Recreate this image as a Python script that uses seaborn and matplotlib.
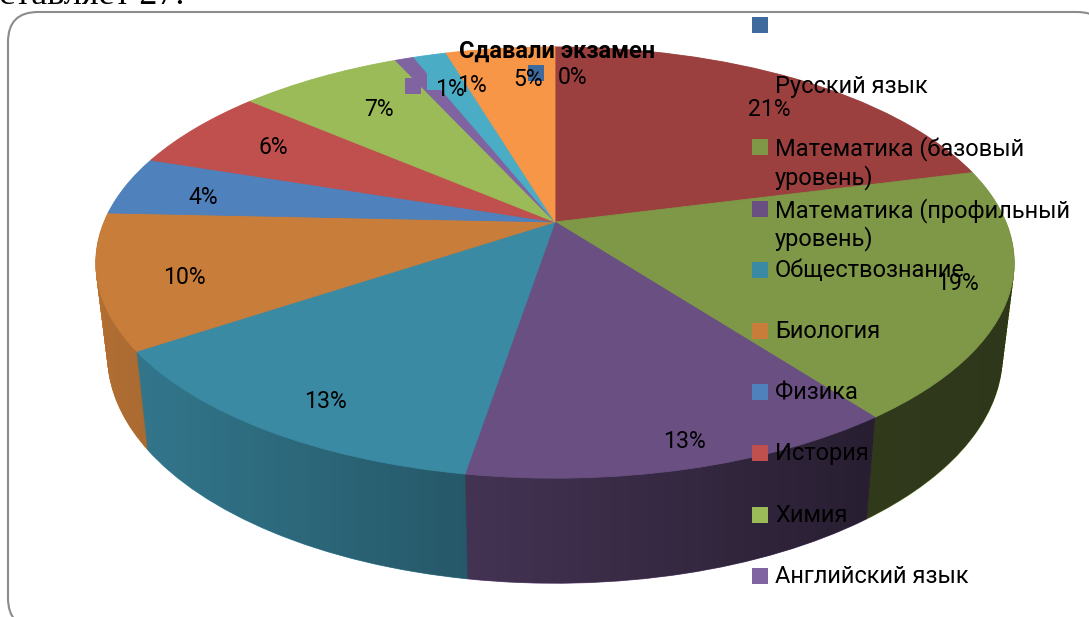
import numpy as np
import matplotlib
matplotlib.use("Agg")
import matplotlib.pyplot as plt
from matplotlib.patches import FancyBboxPatch
from matplotlib.path import Path
from matplotlib.transforms import Transform
import seaborn as sns

# slice shares, clockwise from the top
slice_values = [0.0, 21.0, 18.7, 12.9, 13.0, 10.1, 4.4, 6.2, 6.9, 0.8, 1.4, 4.6]
legend_names = ["", "Русский язык", "Математика (базовый\nуровень)",
                "Математика (профильный\nуровень)", "Обществознание", "Биология",
                "Физика", "История", "Химия", "Английский язык"]
slice_colors = ["#3E6A9E", "#9B403E", "#7F9848", "#6A5082", "#3B8AA3", "#C87D3A",
                "#4F81BD", "#C0504D", "#9BBB59", "#8064A2", "#4BACC6", "#F79646"]
chart_title = "Сдавали экзамен"
top_text = "ставляет 27."

# where the data labels sit (pixels, left edge / centre)
label_x = [558, 748, 936, 663, 304, 163, 188, 258, 364, 435, 457, 513]
label_y = [75, 108, 282, 440, 400, 275, 195, 145, 107, 88, 84, 77]

W, H = 1089, 617
CX, CY = 555, 222
A, B, K = 451, 208, 0.188
DEPTH = 91


class PieView(Transform):
    # maps the flat unit pie to the tilted picture, t=0 top face, t=1 bottom face
    input_dims = 2
    output_dims = 2

    def __init__(self, t=0.0):
        super().__init__()
        self.t = t

    def transform_non_affine(self, xy):
        xy = np.asarray(xy, dtype=float)
        den = 1 + K * xy[:, 1]
        dx = A * xy[:, 0] / den * (1 - 0.026 * self.t)
        dy = -B * xy[:, 1] / den * (1 + 0.055 * self.t) + DEPTH * self.t
        return np.column_stack([CX + dx, CY + dy])


sns.set_theme(style="white")
palette = sns.color_palette(slice_colors)
plt.rcParams["font.family"] = ["Roboto", "DejaVu Sans"]

fig = plt.figure(figsize=(W / 100, H / 100), dpi=100)
ax = fig.add_axes([0, 0, 1, 1])


def draw_pie(t, z):
    wedges, _ = ax.pie(slice_values, colors=palette, startangle=90, counterclock=False,
                       wedgeprops={"linewidth": 0.6, "zorder": z})
    for w in wedges:
        w.set_edgecolor(w.get_facecolor())
        w.set_transform(PieView(t) + ax.transData)


# side wall: stack of pies from the bottom face upwards
layers = np.linspace(1, 0, 110)
for t in layers[:-1]:
    draw_pie(t, 1)

# the wall gets darker from left to right
shade_x = np.linspace(0, W, 256)
shade = np.zeros((1, 256, 4))
shade[0, :, 3] = np.interp(shade_x, [100, 465, 865, 1015], [0.12, 0.36, 0.62, 0.64])
img = ax.imshow(shade, extent=(0, W, H, 0), aspect="auto", zorder=2, interpolation="bilinear")
wall = Path.make_compound_path(*[PieView(t).transform_path(Path.unit_circle()) for t in layers[::2]])
img.set_clip_path(wall, transform=ax.transData)

draw_pie(0.0, 3)

ax.set_aspect("auto")
ax.set_xlim(0, W)
ax.set_ylim(H, 0)
ax.set_axis_off()

# rounded slide frame, runs off the right and bottom edges (white face keeps agg from mangling the curves)
frame = FancyBboxPatch((38, 42), 1039, 556, boxstyle="round,pad=30,rounding_size=30",
                       facecolor="white", edgecolor="#8C8C8C", linewidth=1.5, zorder=0.5)
ax.add_patch(frame)

ax.text(-1, 4, top_text, family="Liberation Serif", fontsize=26, color="black", va="baseline", ha="left", zorder=6)
ax.text(557, 51, chart_title, fontsize=17, fontweight="bold", color="black", ha="center", va="center", zorder=6)

# data labels, each with its little key square
for i, v in enumerate(slice_values):
    ax.scatter(label_x[i] - 22, label_y[i] - 2, marker="s", s=117, color=palette[i], linewidths=0, zorder=4)
for i, v in enumerate(slice_values):
    ax.text(label_x[i], label_y[i] + 2, f"{v:.0f}%", fontsize=16.6, color="black", ha="left", va="center", zorder=6)

# legend drawn by hand, the entries overlap the pie in the reference
for i, name in enumerate(legend_names):
    y = 25 + 61.2 * i
    ax.scatter(760, y, marker="s", s=117, color=palette[i], linewidths=0, zorder=4)
    ax.text(775, y - 11, name, fontsize=17, color="black", ha="left", va="top", linespacing=1.2, zorder=6)

fig.savefig("out.png", dpi=100)
